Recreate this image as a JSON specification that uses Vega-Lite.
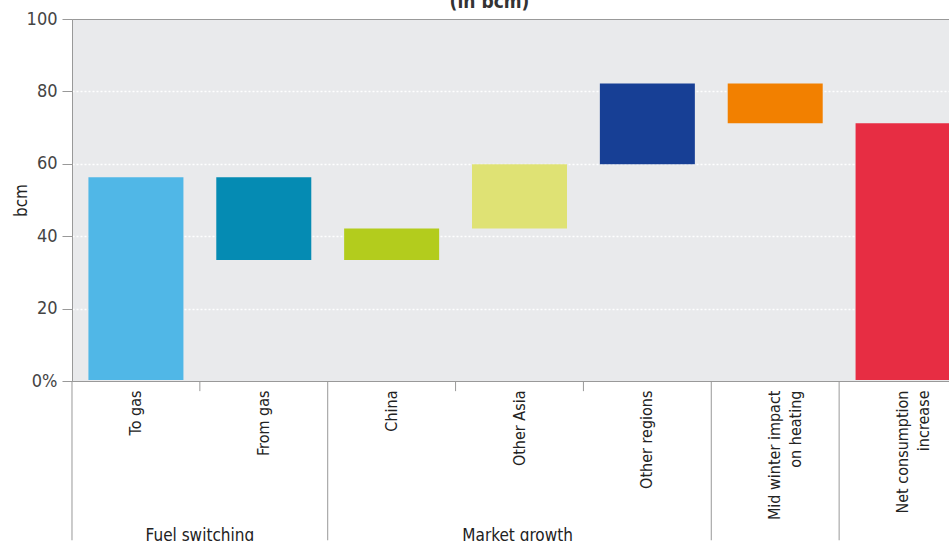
{
  "$schema": "https://vega.github.io/schema/vega-lite/v6.json",
  "autosize": "none",
  "width": 877,
  "height": 362,
  "padding": {"left": 72, "top": 19, "right": 0, "bottom": 160},
  "background": "white",
  "title": {
    "text": "(in bcm)",
    "font": "DejaVu Sans Condensed, Roboto, sans-serif",
    "fontSize": 19,
    "fontWeight": "bold",
    "color": "#333",
    "anchor": "middle",
    "frame": "group",
    "baseline": "bottom",
    "offset": -21,
    "dx": -21
  },
  "config": {
    "view": {"fill": "#E9EAEC", "stroke": "#999"},
    "font": "DejaVu Sans Condensed, Roboto, sans-serif"
  },
  "datasets": {
    "steps": [
      {"cat": "To gas", "start": 0.3, "end": 56.3},
      {"cat": "From gas", "start": 33.4, "end": 56.3},
      {"cat": "China", "start": 33.4, "end": 42.1},
      {"cat": "Other Asia", "start": 42.1, "end": 59.9},
      {"cat": "Other regions", "start": 59.9, "end": 82.2},
      {"cat": "Mid winter impact on heating", "start": 71.2, "end": 82.2},
      {"cat": "Net consumption increase", "start": 0.3, "end": 71.2}
    ],
    "separators": [
      {"cat": "To gas", "kind": "long"},
      {"cat": "From gas", "kind": "short"},
      {"cat": "China", "kind": "long"},
      {"cat": "Other Asia", "kind": "short"},
      {"cat": "Other regions", "kind": "short"},
      {"cat": "Mid winter impact on heating", "kind": "long"},
      {"cat": "Net consumption increase", "kind": "long"}
    ],
    "groups": [
      {"group": "Fuel switching", "cat": "From gas", "kind": "boundary"},
      {"group": "Market growth", "cat": "Other Asia", "kind": "center"}
    ]
  },
  "encoding": {
    "x": {
      "field": "cat",
      "type": "nominal",
      "sort": null,
      "scale": {
        "domain": ["To gas", "From gas", "China", "Other Asia", "Other regions", "Mid winter impact on heating", "Net consumption increase"],
        "range": [0, 895],
        "paddingInner": 0.257,
        "paddingOuter": 0.1285
      },
      "axis": {
        "title": null,
        "labelAngle": -90,
        "labelFont": "DejaVu Sans Condensed, Roboto, sans-serif",
        "labelFontSize": 16,
        "labelColor": "#222",
        "labelLineHeight": 21,
        "labelPadding": 9,
        "ticks": false,
        "domainColor": "#999",
        "labelExpr": "datum.label == 'Mid winter impact on heating' ? ['Mid winter impact', 'on heating'] : datum.label == 'Net consumption increase' ? ['Net consumption', 'increase'] : datum.label"
      }
    }
  },
  "layer": [
    {
      "data": {"name": "steps"},
      "mark": {"type": "bar"},
      "encoding": {
        "y": {
          "field": "end",
          "type": "quantitative",
          "scale": {"domain": [0, 100], "nice": false},
          "axis": {
            "title": "bcm",
            "titleFont": "DejaVu Sans Condensed, Roboto, sans-serif",
            "titleFontSize": 17,
            "titleFontWeight": "normal",
            "titleColor": "#222",
            "titlePadding": -4,
            "values": [0, 20, 40, 60, 80, 100],
            "labelExpr": "datum.value == 0 ? '0%' : datum.label",
            "labelFont": "DejaVu Sans Condensed, Roboto, sans-serif",
            "labelFontSize": 18,
            "labelColor": "#444",
            "labelPadding": 5,
            "tickSize": 10,
            "tickColor": "#999",
            "domainColor": "#999",
            "gridColor": {"condition": {"test": "datum.value == 0 || datum.value == 100", "value": "transparent"}, "value": "white"},
            "gridDash": [2, 2],
            "gridWidth": 1.5
          }
        },
        "y2": {"field": "start"},
        "color": {
          "field": "cat",
          "type": "nominal",
          "legend": null,
          "scale": {
            "domain": ["To gas", "From gas", "China", "Other Asia", "Other regions", "Mid winter impact on heating", "Net consumption increase"],
            "range": ["#50B7E7", "#058BB3", "#B3CC1D", "#DFE274", "#173F95", "#F28000", "#E72D43"]
          }
        }
      }
    },
    {
      "data": {"name": "separators"},
      "transform": [{"filter": "datum.kind == 'long'"}],
      "mark": {"type": "rule", "color": "#999", "strokeWidth": 1},
      "encoding": {
        "x": {"field": "cat", "type": "nominal", "bandPosition": -0.173},
        "y": {"datum": 0},
        "y2": {"datum": -44}
      }
    },
    {
      "data": {"name": "separators"},
      "transform": [{"filter": "datum.kind == 'short'"}],
      "mark": {"type": "rule", "color": "#999", "strokeWidth": 1},
      "encoding": {
        "x": {"field": "cat", "type": "nominal", "bandPosition": -0.173},
        "y": {"datum": 0},
        "y2": {"datum": -2.8}
      }
    },
    {
      "data": {"name": "groups"},
      "transform": [{"filter": "datum.kind == 'boundary'"}],
      "mark": {"type": "text", "baseline": "top", "align": "center", "fontSize": 17, "color": "#222"},
      "encoding": {
        "x": {"field": "cat", "type": "nominal", "bandPosition": -0.173},
        "y": {"datum": -40.5},
        "text": {"field": "group"}
      }
    },
    {
      "data": {"name": "groups"},
      "transform": [{"filter": "datum.kind == 'center'"}],
      "mark": {"type": "text", "baseline": "top", "align": "center", "fontSize": 17, "color": "#222"},
      "encoding": {
        "x": {"field": "cat", "type": "nominal", "bandPosition": 0.48},
        "y": {"datum": -40.5},
        "text": {"field": "group"}
      }
    }
  ]
}
